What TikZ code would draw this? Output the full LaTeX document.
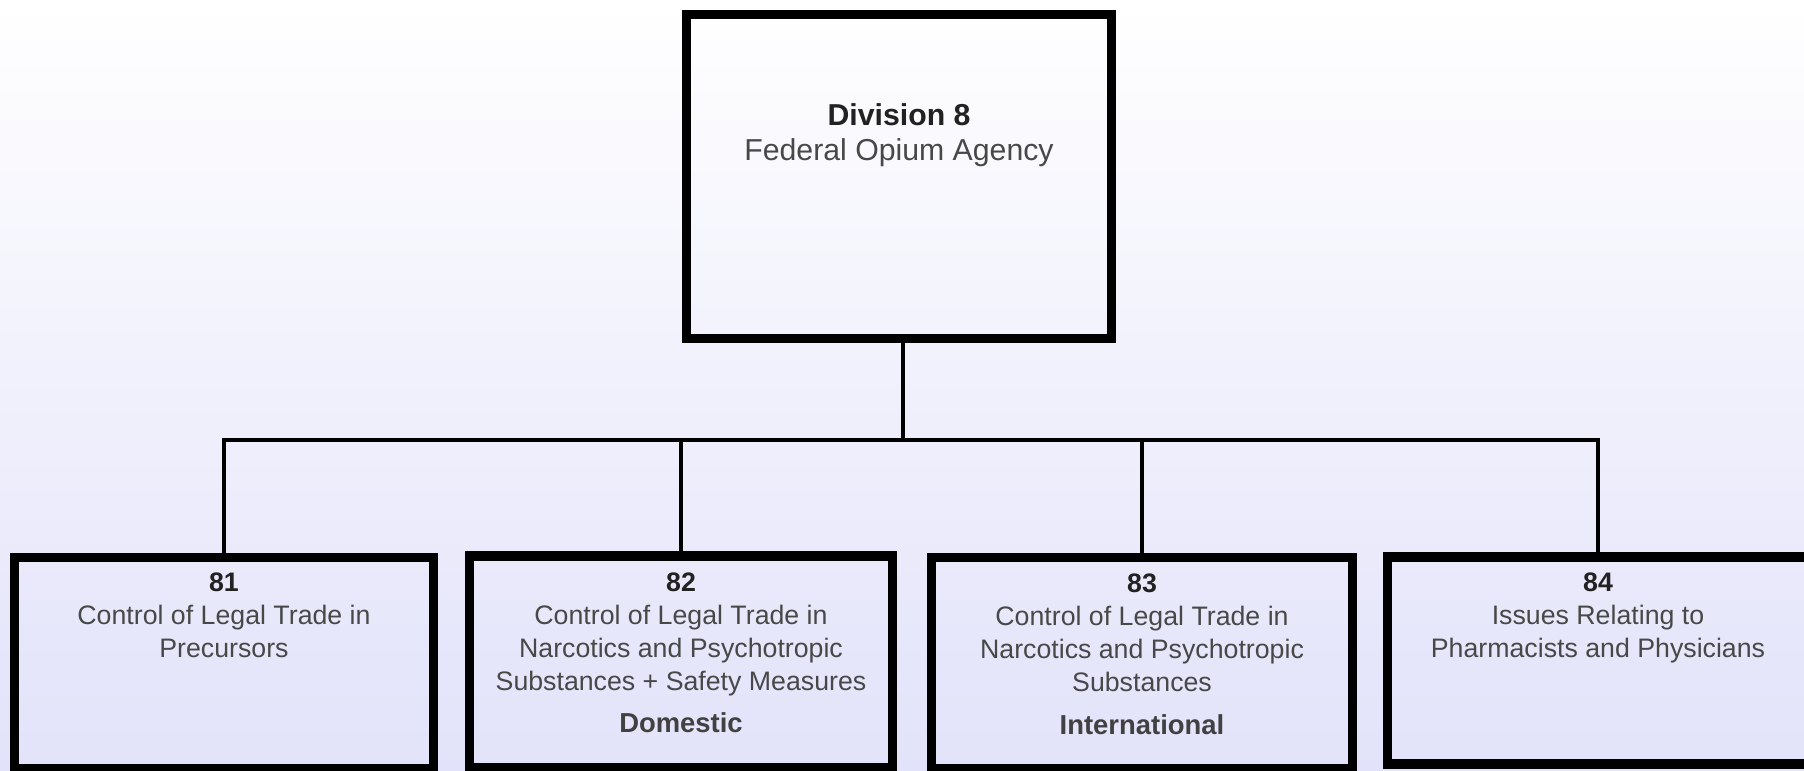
\documentclass[tikz,border=0pt]{standalone}
\usepackage{fontspec}
\setmainfont{Liberation Sans}
\usetikzlibrary{positioning}
\definecolor{bgtop}{RGB}{255,255,255}
\definecolor{bgbot}{RGB}{226,226,250}
\definecolor{txtgray}{RGB}{72,72,72}
\definecolor{numgray}{RGB}{34,34,34}
\tikzset{
  unit/.style={draw=black, line width=2.6pt, rectangle, inner sep=0pt},
  label/.style={inner sep=0pt, align=center, text=txtgray,
    font=\fontsize{7.6}{9.4}\selectfont},
  tag/.style={inner sep=0pt, text=txtgray!90!black,
    font=\fontsize{7.8}{9.4}\selectfont\bfseries},
  link/.style={draw=black, line width=1pt}
}
\begin{document}
\begin{tikzpicture}[x=0.01cm, y=-0.01cm]
                \useasboundingbox (0,0) rectangle (1804,771);
                \shade [top color=bgtop, bottom color=bgbot] (0,0) rectangle (1804,771);
                % boxes
                \node [unit, minimum width=4.24cm, minimum height=3.24cm] (div) at (899,176.5) {};
                \node [unit, minimum width=4.19cm, minimum height=2.11cm] (d81) at (224,663) {};
                \node [unit, minimum width=4.23cm, minimum height=2.12cm] (d82) at (681,662) {};
                \node [unit, minimum width=4.21cm, minimum height=2.11cm] (d83) at (1142,663) {};
                \node [unit, minimum width=4.21cm, minimum height=2.07cm] (d84) at (1598,660.5) {};
                % texts
                \node [label, anchor=north, font=\fontsize{8.6}{10}\selectfont] (divtxt) at (899,103)
                  {\textcolor{numgray}{\bfseries Division 8}\\Federal Opium Agency};
                \node [label, anchor=north] (t81) at (224,572)
                  {\textcolor{numgray}{\bfseries 81}\\Control of Legal Trade in\\Precursors};
                \node [label, anchor=north] (t82) at (681,572)
                  {\textcolor{numgray}{\bfseries 82}\\Control of Legal Trade in\\Narcotics and Psychotropic\\Substances + Safety Measures};
                \node [label, anchor=north] (t83) at (1142,573)
                  {\textcolor{numgray}{\bfseries 83}\\Control of Legal Trade in\\Narcotics and Psychotropic\\Substances};
                \node [label, anchor=north] (t84) at (1598,572)
                  {\textcolor{numgray}{\bfseries 84}\\Issues Relating to\\Pharmacists and Physicians};
                \node [tag] (dom) at (681,723) {Domestic};
                \node [tag] (intl) at (1142,725) {International};
                % connectors
                \coordinate (bus) at (903,440);
                \draw [link] (div.south -| bus) -- (bus);
                \draw [link] (bus) -| (d81.north);
                \draw [link] (bus) -| (d82.north);
                \draw [link] (bus) -| (d83.north);
                \draw [link] (bus) -| (d84.north);
            \end{tikzpicture}
\end{document}
